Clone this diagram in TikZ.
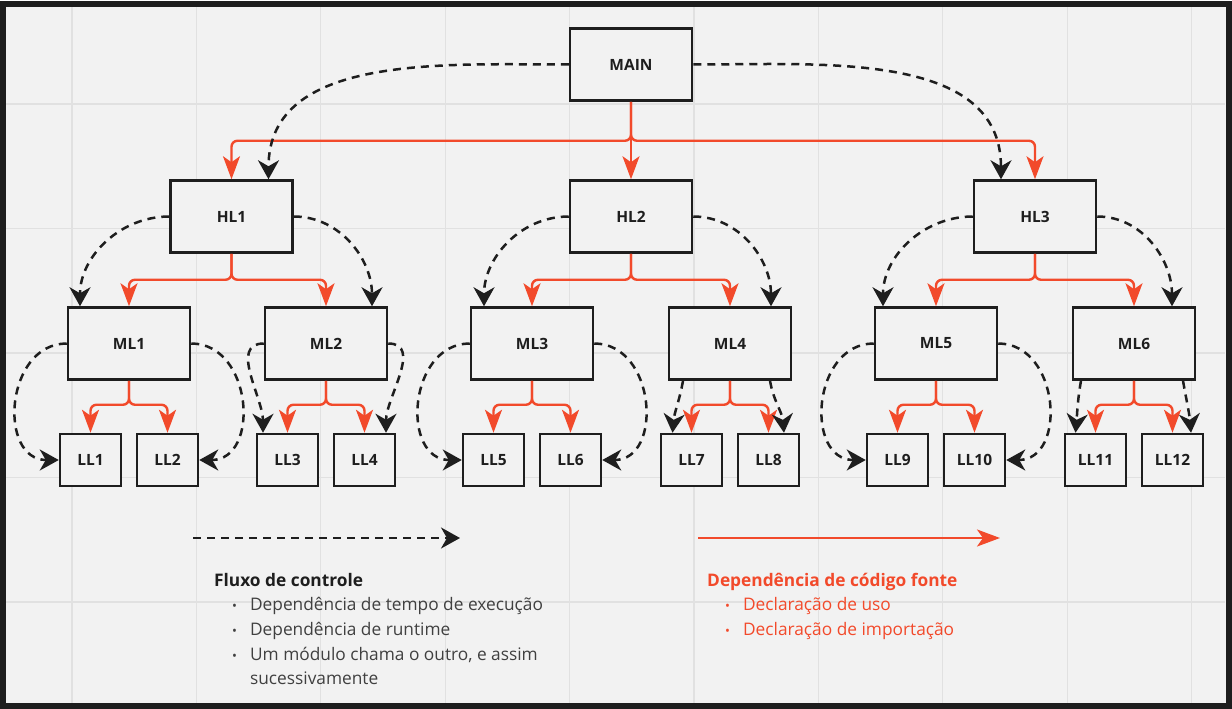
\documentclass[tikz,border=0pt]{standalone}
\usepackage{fontspec}
\setmainfont{Open Sans}
\usetikzlibrary{arrows.meta,positioning}

\definecolor{canvas}{HTML}{F2F2F2}
\definecolor{gridgray}{HTML}{E1E1E1}
\definecolor{ink}{HTML}{1E1E1E}
\definecolor{deporange}{HTML}{F24A2B}

\begin{document}
\begin{tikzpicture}[
  x=1pt, y=-1pt,
  font=\fontsize{15}{18}\selectfont,
  modbox/.style={
    draw=ink,
    line width=2.5pt,
    fill=canvas,
    text=ink,
    font=\fontsize{15.5}{18}\selectfont\bfseries,
    minimum width=122pt,
    minimum height=72pt
  },
  leaf/.style={modbox, minimum width=61pt, minimum height=52pt},
  dep/.style={-{Stealth[length=23pt,width=17pt,inset=6pt]}, line width=2.4pt, draw=deporange, rounded corners=6pt},
  flow/.style={-{Stealth[length=19pt,width=21pt,inset=6pt]}, line width=2.5pt, draw=ink, dash pattern=on 8pt off 6pt},
  gridline/.style={draw=gridgray, line width=1.3pt},
  legend/.style={inner sep=0pt, anchor=base west, font=\fontsize{17.3}{24.7}\selectfont}
]

\useasboundingbox (0,0) rectangle (1232,709);
\fill[canvas] (3,4.5) rectangle (1228.5,706);

% grid
\foreach \i in {0,...,9}
  \draw[gridline] ({72+124.4*\i},7) -- ({72+124.4*\i},703);
\foreach \j in {0,...,4}
  \draw[gridline] (6,{104+124.5*\j}) -- (1225,{104+124.5*\j});

% modules
\node[modbox] (main) at (631,64.5) {MAIN};
\node[modbox] (hl1) at (231.5,216.5) {HL1};
\node[modbox] (hl2) at (631,216.5) {HL2};
\node[modbox] (hl3) at (1035,216.5) {HL3};

\foreach \m/\x in {1/129,2/326,3/532,4/730,5/936,6/1134}{
  \pgfmathtruncatemacro{\la}{2*\m-1}
  \pgfmathtruncatemacro{\lb}{2*\m}
  \node[modbox] (ml\m) at (\x,343.5) {ML\m};
  \node[leaf] (ll\la) at ({\x-38.5},460) {LL\la};
  \node[leaf] (ll\lb) at ({\x+38.5},460) {LL\lb};
  \draw[dep] (ml\m.south) -- ++(0,24) -| (ll\la.north);
  \draw[dep] (ml\m.south) -- ++(0,24) -| (ll\lb.north);
}

% source code dependencies
\draw[dep] (main.south) -- ++(0,39) -| (hl1.north);
\draw[dep] (main.south) -- (hl2.north);
\draw[dep] (main.south) -- ++(0,39) -| (hl3.north);
\foreach \h/\a/\b in {1/1/2,2/3/4,3/5/6}{
  \draw[dep] (hl\h.south) -- ++(0,26) -| (ml\a.north);
  \draw[dep] (hl\h.south) -- ++(0,26) -| (ml\b.north);
}

% flow of control
\draw[flow] (main.west) to[out=180,in=90] ([xshift=37pt]hl1.north);
\draw[flow] (main.east) to[out=0,in=90] ([xshift=-34pt]hl3.north);

\draw[flow] (hl1.west) to[out=180,in=90] ([xshift=-49pt]ml1.north);
\draw[flow] (hl1.east) to[out=0,in=90] ([xshift=46pt]ml2.north);
\draw[flow] (hl2.west) to[out=180,in=90] ([xshift=-48pt]ml3.north);
\draw[flow] (hl2.east) to[out=0,in=90] ([xshift=41pt]ml4.north);
\draw[flow] (hl3.west) to[out=180,in=90] ([xshift=-53pt]ml5.north);
\draw[flow] (hl3.east) to[out=0,in=90] ([xshift=38pt]ml6.north);

\foreach \m/\a/\b in {1/1/2,3/5/6,5/9/10}{
  \draw[flow] (ml\m.west) to[out=180,in=180,looseness=1.35] (ll\a.west);
  \draw[flow] (ml\m.east) to[out=0,in=0,looseness=1.35] (ll\b.east);
}
\draw[flow] (ml2.west) to[out=180,in=90] ([xshift=-24.5pt]ll3.north);
\draw[flow] (ml2.east) to[out=0,in=90] ([xshift=21.5pt]ll4.north);
\draw[flow] ([xshift=-47pt]ml4.south) to[out=-100,in=85] ([xshift=-19pt]ll7.north);
\draw[flow] ([xshift=40pt]ml4.south) to[out=-80,in=95] ([xshift=15.5pt]ll8.north);
\draw[flow] ([xshift=-53pt]ml6.south) to[out=-100,in=85] ([xshift=-20pt]ll11.north);
\draw[flow] ([xshift=49pt]ml6.south) to[out=-80,in=95] ([xshift=18.5pt]ll12.north);

% legend
\coordinate (flowstart) at (193,538);
\coordinate (flowend) at (460,538);
\draw[flow] (flowstart) -- (flowend);
\coordinate (depstart) at (698,538);
\coordinate (depend) at (1000,538);
\draw[dep] (depstart) -- (depend);

\node[legend, text=ink!85] (flowtext) at (214,586) {%
  \begin{tabular}[t]{@{\hspace{18pt}}l@{\hspace{13pt}}l@{}}
    \multicolumn{2}{@{}l@{}}{\bfseries\color{ink}Fluxo de controle}\\
    {\fontsize{13}{13}\selectfont\textbullet} & Dependência de tempo de execução\\
    {\fontsize{13}{13}\selectfont\textbullet} & Dependência de runtime\\
    {\fontsize{13}{13}\selectfont\textbullet} & Um módulo chama o outro, e assim\\
     & sucessivamente
  \end{tabular}};
\node[legend, text=deporange] (deptext) at (707,586) {%
  \begin{tabular}[t]{@{\hspace{18pt}}l@{\hspace{13pt}}l@{}}
    \multicolumn{2}{@{}l@{}}{\bfseries Dependência de código fonte}\\
    {\fontsize{13}{13}\selectfont\textbullet} & Declaração de uso\\
    {\fontsize{13}{13}\selectfont\textbullet} & Declaração de importação
  \end{tabular}};

\draw[line width=6pt, draw=ink] (3,4.5) rectangle (1228.5,706);

\end{tikzpicture}
\end{document}
